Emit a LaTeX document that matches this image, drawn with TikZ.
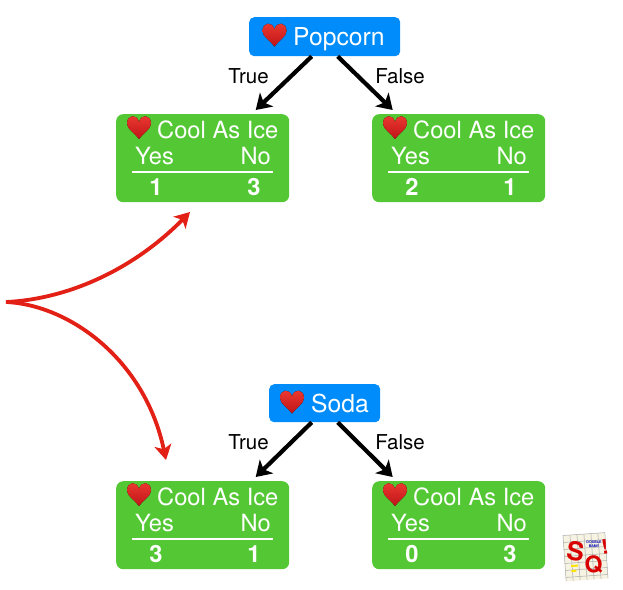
\documentclass[tikz,border=0pt]{standalone}
\usepackage{fontspec}
\setmainfont{TeX Gyre Heros}
\usetikzlibrary{arrows.meta}

\definecolor{boxgreen}{RGB}{84,200,52}
\definecolor{boxblue}{RGB}{0,140,250}
\definecolor{arrowred}{RGB}{226,32,22}
\definecolor{heartred}{RGB}{240,60,50}
\definecolor{heartdark}{RGB}{190,20,25}
\definecolor{logopaper}{RGB}{246,243,226}
\definecolor{logogrid}{RGB}{170,170,170}

\tikzset{
    greenbox/.style={fill=boxgreen,rounded corners=7pt,minimum width=173pt,minimum height=88pt,inner sep=0pt,anchor=north west},
    bluebox/.style={fill=boxblue,rounded corners=5pt,inner sep=0pt,anchor=north west},
    boxtext/.style={text=white,font=\fontsize{23.7}{28}\selectfont,inner sep=0pt},
    boxnum/.style={text=white,font=\bfseries\fontsize{23.7}{28}\selectfont,inner sep=0pt,anchor=base},
    edgetext/.style={text=black,font=\fontsize{20.5}{24}\selectfont,inner sep=0pt,anchor=base},
    blackarrow/.style={black,line width=4.2pt,-{Stealth[length=15pt,width=19pt,inset=4pt]}},
    redarrow/.style={arrowred,line width=3.8pt,-{Stealth[length=15pt,width=17pt,inset=4pt]}},
    pics/hearticon/.style={code={
        \fill[top color=heartred,bottom color=heartdark] (0,11)
            .. controls (-4,5) and (-12,1.5) .. (-12,-4.5)
            .. controls (-12,-13.5) and (-2,-14.5) .. (0,-6)
            .. controls (2,-14.5) and (12,-13.5) .. (12,-4.5)
            .. controls (12,1.5) and (4,5) .. (0,11) -- cycle;
    }},
}

\begin{document}
\begin{tikzpicture}[x=1pt,y=-1pt]
    \useasboundingbox (0,0) rectangle (623,589);

    % root boxes
    \node[bluebox,minimum width=151pt,minimum height=39pt] (popcorn) at (249,17) {};
    \pic at (274.5,35.5) {hearticon};
    \node[boxtext,anchor=base west,font=\fontsize{24.7}{28}\selectfont] (popcornlabel) at (293,45) {Popcorn};

    \node[bluebox,minimum width=111pt,minimum height=38pt] (soda) at (269,384) {};
    \pic at (292,402.5) {hearticon};
    \node[boxtext,anchor=base west,font=\fontsize{24.7}{28}\selectfont] (sodalabel) at (311,412) {Soda};

    % leaf boxes
    \foreach \boxname/\bx/\by/\yesval/\noval in {popT/116/114/1/3, popF/372/114/2/1, sodaT/116/481/3/1, sodaF/372/481/0/3}{
        \begin{scope}[shift={(\bx,\by)}]
            \node[greenbox] (\boxname) at (0,0) {};
            \pic at (23,14) {hearticon};
            \node[boxtext,anchor=base west] (\boxname title) at (41,24) {Cool As Ice};
            \node[boxtext,anchor=base west] (\boxname yes) at (19,50) {Yes};
            \node[boxtext,anchor=base east] (\boxname no) at (155,50) {No};
            \coordinate (\boxname a) at (16,58);
            \coordinate (\boxname b) at (157,58);
            \draw[white,line width=2.4pt] (\boxname a) -- (\boxname b);
            \node[boxnum] (\boxname yesval) at (40,81) {\yesval};
            \node[boxnum] (\boxname noval) at (138,81) {\noval};
        \end{scope}
    }

    % tree edges
    \draw[blackarrow] ([xshift=-13pt]popcorn.south) -- ([xshift=53pt,yshift=4pt]popT.north);
    \draw[blackarrow] ([xshift=13pt]popcorn.south) -- ([xshift=-66pt,yshift=4pt]popF.north);
    \draw[blackarrow] ([xshift=-13pt]soda.south) -- ([xshift=53pt,yshift=4pt]sodaT.north);
    \draw[blackarrow] ([xshift=13pt]soda.south) -- ([xshift=-66pt,yshift=4pt]sodaF.north);

    \node[edgetext] (poptrue) at (248.5,83) {True};
    \node[edgetext] (popfalse) at (400,83) {False};
    \node[edgetext] (sodatrue) at (248.5,449) {True};
    \node[edgetext] (sodafalse) at (400,449) {False};

    % red arrows
    \coordinate (S) at (6,302);
    \coordinate (U) at (190,212);
    \coordinate (L) at (166,460);
    \draw[redarrow] (S) .. controls (70,299) and (135,268) .. (U);
    \draw[redarrow] (S) .. controls (70,305) and (145,360) .. (L);

    % logo
    \begin{scope}[shift={(585.5,557)},rotate=4]
        \fill[logopaper] (-21,-23) rectangle (21,23);
        \foreach \i in {-21,-14,...,21}{
            \draw[logogrid,line width=0.5pt] (\i,-23) -- (\i,23);
        }
        \foreach \j in {-23,-16,...,23}{
            \draw[logogrid,line width=0.5pt] (-21,\j) -- (21,\j);
        }
        \fill[yellow!85!orange] (-15,7) rectangle (-8,9);
        \fill[yellow!85!orange] (-15,12) rectangle (-10,14);
    \end{scope}
    \node[text=red!85!black,font=\bfseries\fontsize{26}{26}\selectfont,rotate=-8,inner sep=0pt] (logoS) at (575.5,551) {S};
    \node[text=red!85!black,font=\bfseries\fontsize{23}{23}\selectfont,rotate=5,inner sep=0pt] (logoQ) at (593.5,565) {Q};
    \node[text=red!85!black,font=\bfseries\fontsize{20}{20}\selectfont,rotate=8,inner sep=0pt] (logobang) at (605,547) {!};
    \node[text=blue!70!black,font=\bfseries\fontsize{3.6}{3.6}\selectfont,align=center,inner sep=0pt] (logotext) at (594,544) {DOUBLE\\BAM!!};
\end{tikzpicture}
\end{document}
